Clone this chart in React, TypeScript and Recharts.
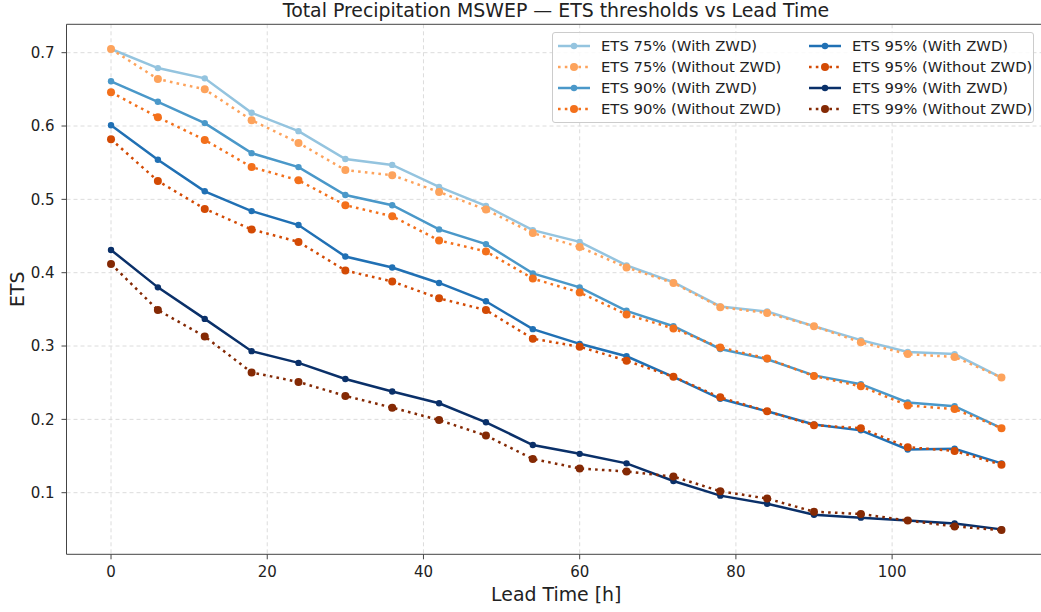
import React from "react";
import {
  LineChart,
  Line,
  XAxis,
  YAxis,
  CartesianGrid,
  ReferenceLine,
  Label,
} from "recharts";

const leadTimes = [0, 6, 12, 18, 24, 30, 36, 42, 48, 54, 60, 66, 72, 78, 84, 90, 96, 102, 108, 114];

const ets75With = [0.705, 0.679, 0.665, 0.618, 0.593, 0.555, 0.547, 0.517, 0.491, 0.458, 0.442, 0.41, 0.387, 0.354, 0.347, 0.327, 0.308, 0.292, 0.289, 0.257];
const ets75Without = [0.705, 0.664, 0.65, 0.608, 0.577, 0.54, 0.533, 0.51, 0.486, 0.454, 0.435, 0.407, 0.386, 0.353, 0.345, 0.327, 0.305, 0.289, 0.285, 0.257];
const ets90With = [0.661, 0.633, 0.604, 0.563, 0.544, 0.506, 0.492, 0.459, 0.439, 0.399, 0.38, 0.348, 0.327, 0.296, 0.282, 0.26, 0.248, 0.223, 0.218, 0.188];
const ets90Without = [0.646, 0.612, 0.581, 0.544, 0.526, 0.492, 0.477, 0.444, 0.429, 0.392, 0.373, 0.343, 0.324, 0.298, 0.283, 0.259, 0.245, 0.219, 0.214, 0.188];
const ets95With = [0.601, 0.554, 0.511, 0.484, 0.465, 0.422, 0.407, 0.386, 0.361, 0.323, 0.303, 0.286, 0.258, 0.228, 0.211, 0.193, 0.185, 0.159, 0.16, 0.14];
const ets95Without = [0.582, 0.525, 0.487, 0.459, 0.442, 0.403, 0.388, 0.365, 0.349, 0.31, 0.299, 0.28, 0.258, 0.23, 0.211, 0.192, 0.188, 0.162, 0.157, 0.138];
const ets99With = [0.431, 0.38, 0.337, 0.293, 0.277, 0.255, 0.238, 0.222, 0.196, 0.165, 0.153, 0.14, 0.116, 0.096, 0.085, 0.07, 0.066, 0.062, 0.058, 0.05];
const ets99Without = [0.412, 0.349, 0.313, 0.264, 0.251, 0.232, 0.216, 0.199, 0.178, 0.146, 0.133, 0.129, 0.122, 0.102, 0.092, 0.074, 0.071, 0.062, 0.054, 0.049];

const xTicks = [0, 20, 40, 60, 80, 100];
const yTicks = [0.1, 0.2, 0.3, 0.4, 0.5, 0.6, 0.7];

const X_DOMAIN: [number, number] = [-5.7, 119.7];
const Y_DOMAIN: [number, number] = [0.016, 0.7387];

const FONT = "DejaVu Sans, sans-serif";
const SPINE = "#444";
const TEXT = "#222";

type Series = { key: string; name: string; values: number[]; color: string; dotted: boolean };

const series: Series[] = [
  { key: "w75", name: "ETS 75% (With ZWD)", values: ets75With, color: "#94c4df", dotted: false },
  { key: "n75", name: "ETS 75% (Without ZWD)", values: ets75Without, color: "#fda35c", dotted: true },
  { key: "w90", name: "ETS 90% (With ZWD)", values: ets90With, color: "#4a98c9", dotted: false },
  { key: "n90", name: "ETS 90% (Without ZWD)", values: ets90Without, color: "#f3701b", dotted: true },
  { key: "w95", name: "ETS 95% (With ZWD)", values: ets95With, color: "#2070b4", dotted: false },
  { key: "n95", name: "ETS 95% (Without ZWD)", values: ets95Without, color: "#d34a04", dotted: true },
  { key: "w99", name: "ETS 99% (With ZWD)", values: ets99With, color: "#0a3069", dotted: false },
  { key: "n99", name: "ETS 99% (Without ZWD)", values: ets99Without, color: "#842904", dotted: true },
];

const data = leadTimes.map((t, i) => {
  const row: Record<string, number> = { lead: t };
  series.forEach((s) => {
    row[s.key] = s.values[i];
  });
  return row;
});

const XTick = ({ x, y, payload }: any) => (
  <text x={x} y={y + 15} textAnchor="middle" fontSize={15} fontFamily={FONT} fill={TEXT}>
    {payload.value}
  </text>
);

const YTick = ({ x, y, payload }: any) => (
  <text x={x} y={y} dy="0.36em" textAnchor="end" fontSize={15} fontFamily={FONT} fill={TEXT}>
    {Number(payload.value).toFixed(1)}
  </text>
);

function Handle({ s }: { s: Series }) {
  return (
    <svg width={32} height={10} style={{ display: "block", flex: "none" }}>
      <line
        x1={0}
        x2={32}
        y1={5}
        y2={5}
        stroke={s.color}
        strokeWidth={2.5}
        strokeDasharray={s.dotted ? "2.6 4.2" : undefined}
      />
      <circle cx={16} cy={5} r={s.dotted ? 4 : 3.2} fill={s.color} />
    </svg>
  );
}

function LegendBox() {
  const cols = [series.slice(0, 4), series.slice(4, 8)];
  return (
    <div
      style={{
        position: "absolute",
        left: 552,
        top: 32,
        width: 482,
        height: 91,
        boxSizing: "border-box",
        display: "flex",
        border: "1px solid #ccc",
        borderRadius: 3,
        background: "rgba(255,255,255,0.85)",
        padding: "2px 0 3px 5px",
        fontFamily: FONT,
        fontSize: 14.8,
        color: TEXT,
        zIndex: 2,
      }}
    >
      {cols.map((col, ci) => (
        <div key={ci} style={{ width: ci === 0 ? 251 : 224 }}>
          {col.map((s) => (
            <div key={s.key} style={{ display: "flex", alignItems: "center", height: 21, gap: 11 }}>
              <Handle s={s} />
              <span style={{ whiteSpace: "nowrap" }}>{s.name}</span>
            </div>
          ))}
        </div>
      ))}
    </div>
  );
}

export default function App() {
  return (
    <div style={{ position: "absolute", left: 0, top: 0, width: 1041, height: 612, overflow: "hidden", background: "#fff" }}>
      <div
        style={{
          position: "absolute",
          left: 0,
          width: 1112,
          top: -1,
          textAlign: "center",
          fontFamily: FONT,
          fontSize: 18.9,
          color: TEXT,
          zIndex: 2,
        }}
      >
        Total Precipitation MSWEP — ETS thresholds vs Lead Time
      </div>
      <LegendBox />
      <LineChart width={1046} height={612} data={data} margin={{ top: 24.3, right: 0, bottom: 17.7, left: 6.5 }}>
        <CartesianGrid stroke="#dcdcdc" strokeDasharray="4 3" horizontalValues={yTicks} verticalValues={xTicks} />
        <XAxis
          dataKey="lead"
          type="number"
          domain={X_DOMAIN}
          allowDataOverflow
          ticks={xTicks}
          height={40}
          tickSize={5}
          tickMargin={3}
          tick={<XTick />}
          stroke={SPINE}
          tickLine={{ stroke: SPINE }}
        >
          <Label
            content={({ viewBox }: any) => (
              <text
                x={viewBox.x + viewBox.width / 2}
                y={viewBox.y + 47}
                textAnchor="middle"
                fontSize={18.9}
                fontFamily={FONT}
                fill={TEXT}
              >
                Lead Time [h]
              </text>
            )}
          />
        </XAxis>
        <YAxis
          type="number"
          domain={Y_DOMAIN}
          allowDataOverflow
          ticks={yTicks}
          width={60}
          tickSize={5}
          tickMargin={7}
          tick={<YTick />}
          stroke={SPINE}
          tickLine={{ stroke: SPINE }}
        >
          <Label
            content={({ viewBox }: any) => {
              const cx = 17;
              const cy = viewBox.y + viewBox.height / 2;
              return (
                <text
                  x={cx}
                  y={cy}
                  transform={`rotate(-90 ${cx} ${cy})`}
                  textAnchor="middle"
                  dominantBaseline="central"
                  fontSize={18.9}
                  fontFamily={FONT}
                  fill={TEXT}
                >
                  ETS
                </text>
              );
            }}
          />
        </YAxis>
        <ReferenceLine y={Y_DOMAIN[1]} stroke={SPINE} strokeWidth={1} ifOverflow="visible" />
        {series.map((s) => (
          <Line
            key={s.key}
            dataKey={s.key}
            name={s.name}
            stroke={s.color}
            strokeWidth={2.5}
            strokeDasharray={s.dotted ? "2.6 4.2" : undefined}
            dot={{ r: s.dotted ? 4 : 3.2, fill: s.color, stroke: s.color, strokeWidth: 0, strokeDasharray: "" }}
            activeDot={false}
            isAnimationActive={false}
          />
        ))}
      </LineChart>
    </div>
  );
}
